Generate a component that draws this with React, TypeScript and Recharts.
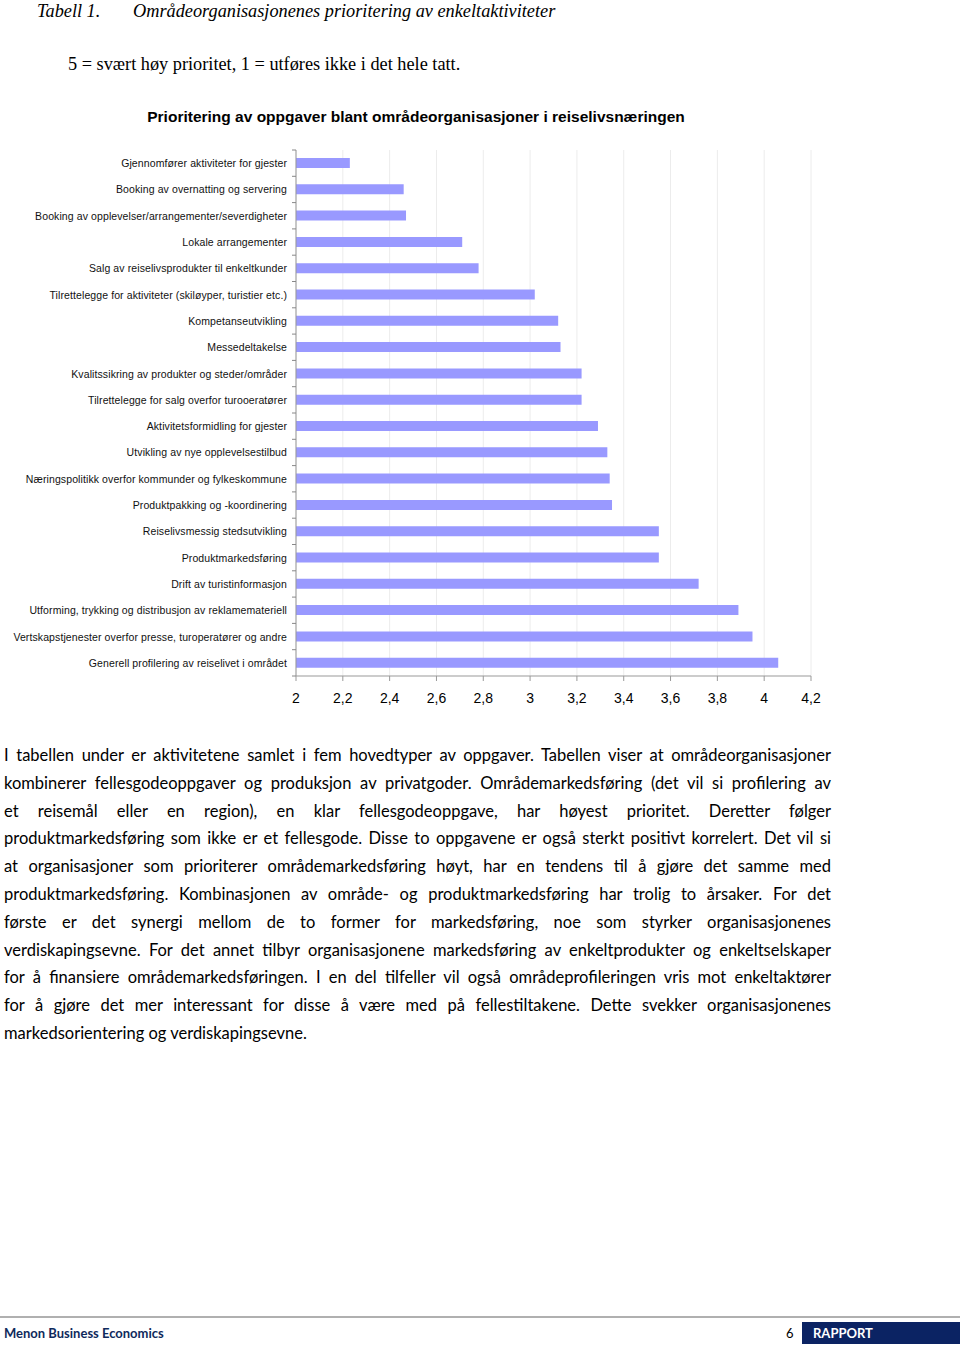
import { BarChart, Bar, XAxis, YAxis, CartesianGrid } from 'recharts';

const activities = [
  'Gjennomfører aktiviteter for gjester',
  'Booking av overnatting og servering',
  'Booking av opplevelser/arrangementer/severdigheter',
  'Lokale arrangementer',
  'Salg av reiselivsprodukter til enkeltkunder',
  'Tilrettelegge for aktiviteter (skiløyper, turistier etc.)',
  'Kompetanseutvikling',
  'Messedeltakelse',
  'Kvalitssikring av produkter og steder/områder',
  'Tilrettelegge for salg overfor turooeratører',
  'Aktivitetsformidling for gjester',
  'Utvikling av nye opplevelsestilbud',
  'Næringspolitikk overfor kommunder og fylkeskommune',
  'Produktpakking og -koordinering',
  'Reiselivsmessig stedsutvikling',
  'Produktmarkedsføring',
  'Drift av turistinformasjon',
  'Utforming, trykking og distribusjon av reklamemateriell',
  'Vertskapstjenester overfor presse, turoperatører og andre',
  'Generell profilering av reiselivet i området',
];

const priority = [
  2.23, 2.46, 2.47, 2.71, 2.78, 3.02, 3.12, 3.13, 3.22, 3.22,
  3.29, 3.33, 3.34, 3.35, 3.55, 3.55, 3.72, 3.89, 3.95, 4.06,
];

const xTicks = [2, 2.2, 2.4, 2.6, 2.8, 3, 3.2, 3.4, 3.6, 3.8, 4, 4.2];

const bodyLines = [
  'I tabellen under er aktivitetene samlet i fem hovedtyper av oppgaver. Tabellen viser at områdeorganisasjoner',
  'kombinerer fellesgodeoppgaver og produksjon av privatgoder. Områdemarkedsføring (det vil si profilering av',
  'et reisemål eller en region), en klar fellesgodeoppgave, har høyest prioritet. Deretter følger',
  'produktmarkedsføring som ikke er et fellesgode. Disse to oppgavene er også sterkt positivt korrelert. Det vil si',
  'at organisasjoner som prioriterer områdemarkedsføring høyt, har en tendens til å gjøre det samme med',
  'produktmarkedsføring. Kombinasjonen av område- og produktmarkedsføring har trolig to årsaker. For det',
  'første er det synergi mellom de to former for markedsføring, noe som styrker organisasjonenes',
  'verdiskapingsevne. For det annet tilbyr organisasjonene markedsføring av enkeltprodukter og enkeltselskaper',
  'for å finansiere områdemarkedsføringen. I en del tilfeller vil også områdeprofileringen vris mot enkeltaktører',
  'for å gjøre det mer interessant for disse å være med på fellestiltakene. Dette svekker organisasjonenes',
  'markedsorientering og verdiskapingsevne.',
];

const data = activities.map((name, i) => ({ name, value: priority[i] }));

const HALF_BAND = 13.15;

function CategoryTick(props: any) {
  const { x, y, payload, index } = props;
  const last = index === activities.length - 1;
  return (
    <g>
      <line x1={x + 4} x2={x + 8} y1={y - HALF_BAND} y2={y - HALF_BAND} stroke="#888" />
      {last && <line x1={x + 4} x2={x + 8} y1={y + HALF_BAND} y2={y + HALF_BAND} stroke="#888" />}
      <text
        x={x - 1}
        y={y}
        dy={4}
        textAnchor="end"
        fontSize={10.5}
        letterSpacing={0.1}
        fill="#111"
        fontFamily="'Liberation Sans', Arial, sans-serif"
      >
        {payload.value}
      </text>
    </g>
  );
}

export default function App() {
  return (
    <div style={{ position: 'absolute', left: 0, top: 0, width: 960, height: 1349, background: '#fff' }}>
      <div
        style={{
          position: 'absolute', top: 0, left: 37, fontFamily: "'Liberation Serif', serif",
          fontStyle: 'italic', fontSize: 18.3, whiteSpace: 'nowrap', lineHeight: '22px',
        }}
      >
        Tabell 1.
        <span style={{ position: 'absolute', left: 96 }}>Områdeorganisasjonenes prioritering av enkeltaktiviteter</span>
      </div>
      <div
        style={{
          position: 'absolute', top: 53, left: 68, fontFamily: "'Liberation Serif', serif",
          fontSize: 18.3, whiteSpace: 'nowrap', lineHeight: '22px',
        }}
      >
        5 = svært høy prioritet, 1 = utføres ikke i det hele tatt.
      </div>
      <div
        style={{
          position: 'absolute', top: 107, left: 0, width: 832, textAlign: 'center',
          fontFamily: "'Liberation Sans', Arial, sans-serif", fontWeight: 'bold', fontSize: 15.5,
          lineHeight: '20px',
        }}
      >
        Prioritering av oppgaver blant områdeorganisasjoner i reiselivsnæringen
      </div>

      <div style={{ position: 'absolute', left: 0, top: 0 }}>
        <BarChart
          width={960}
          height={720}
          data={data}
          layout="vertical"
          margin={{ top: 150, right: 149, bottom: 14, left: 0 }}
          barCategoryGap={0}
        >
          <CartesianGrid horizontal={false} stroke="#ececec" />
          <XAxis
            type="number"
            domain={[2, 4.2]}
            ticks={xTicks}
            interval={0}
            height={30}
            stroke="#999"
            tickSize={5}
            tick={{ fill: '#000', fontSize: 14, fontFamily: "'Liberation Sans', Arial, sans-serif", dy: 10 }}
            tickFormatter={(v: number) => String(v).replace('.', ',')}
            allowDataOverflow
          />
          <YAxis
            type="category"
            dataKey="name"
            width={296}
            stroke="#999"
            tickLine={false}
            tick={<CategoryTick />}
            interval={0}
          />
          <Bar dataKey="value" fill="#9999ff" barSize={10} isAnimationActive={false} />
        </BarChart>
      </div>

      <div
        style={{
          position: 'absolute', top: 742, left: 4, width: 827, fontFamily: "Lato, 'Open Sans', sans-serif",
          fontSize: 16.5, lineHeight: '27.8px', color: '#000',
        }}
      >
        {bodyLines.map((line, i) => (
          <div
            key={i}
            style={{
              textAlign: 'justify',
              textAlignLast: i === bodyLines.length - 1 ? 'left' : 'justify',
              whiteSpace: 'nowrap',
            }}
          >
            {line}
          </div>
        ))}
      </div>

      <div style={{ position: 'absolute', top: 1316, left: 0, width: 960, height: 2, background: '#b0b0b0' }} />
      <div
        style={{
          position: 'absolute', top: 1325, left: 4, fontFamily: "Lato, sans-serif", fontWeight: 'bold',
          fontSize: 13, color: '#0f2a5c',
        }}
      >
        Menon Business Economics
      </div>
      <div style={{ position: 'absolute', top: 1325, left: 786, fontFamily: 'Lato, sans-serif', fontSize: 13 }}>6</div>
      <div
        style={{
          position: 'absolute', top: 1322, left: 802, width: 158, height: 22, background: '#0b2363',
          color: '#fff', fontFamily: 'Lato, sans-serif', fontWeight: 'bold', fontSize: 13,
          lineHeight: '22px', paddingLeft: 11, boxSizing: 'border-box',
        }}
      >
        RAPPORT
      </div>
    </div>
  );
}
